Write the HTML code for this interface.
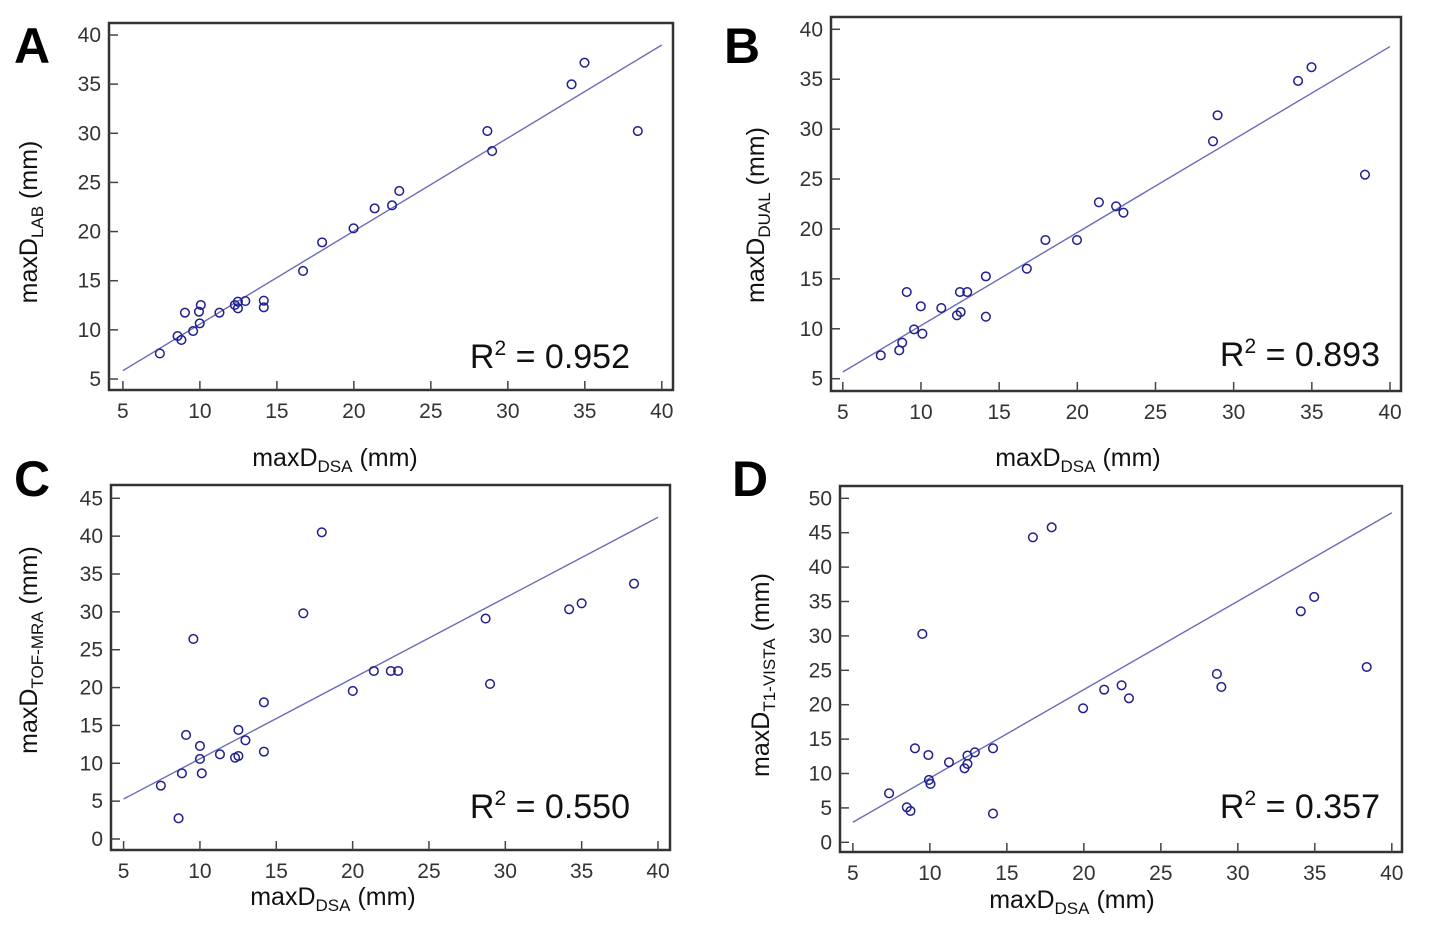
<!DOCTYPE html>
<html><head><meta charset="utf-8"><style>
html,body{margin:0;padding:0;background:#fff;}
svg{display:block;font-family:"Liberation Sans",sans-serif;}
</style></head><body>
<svg id="fig" width="1430" height="943" viewBox="0 0 1430 943" xmlns="http://www.w3.org/2000/svg"></svg>
<script>
// ---- data (x = maxD_DSA, y = other modality) ----
const xA=[7.4,8.55,8.8,9.03,9.56,9.94,10.06,9.99,11.27,12.27,12.47,12.47,12.95,14.15,14.15,16.7,17.94,19.98,21.35,22.48,22.95,28.67,28.98,34.14,34.98,38.44];
const yA=[7.6,9.37,8.97,11.75,9.88,11.85,12.53,10.66,11.75,12.53,12.87,12.19,12.93,12.97,12.29,15.99,18.9,20.33,22.36,22.67,24.13,30.23,28.19,34.98,37.18,30.23];
const fitA=[5.85,38.98];
const xB=[7.43,8.61,8.8,9.09,9.56,10.09,9.99,11.3,12.3,12.54,12.49,12.96,14.15,14.15,16.77,17.96,19.98,21.38,22.48,22.95,28.68,28.97,34.12,34.98,38.4];
const yB=[7.34,7.84,8.61,13.68,9.94,9.51,12.25,12.08,11.35,11.68,13.68,13.68,15.25,11.21,16.02,18.89,18.89,22.67,22.27,21.63,28.78,31.39,34.83,36.2,25.44];
const fitB=[5.67,38.27];
const xC=[7.44,8.6,8.82,9.09,9.57,10.0,10.0,10.12,11.31,12.3,12.52,12.52,12.98,14.19,14.19,16.77,17.98,20.01,21.39,22.5,22.98,28.71,29.0,34.18,35.0,38.43];
const yC=[7.05,2.73,8.67,13.74,26.42,12.29,10.57,8.67,11.18,10.74,10.96,14.4,13.03,18.05,11.54,29.81,40.51,19.55,22.19,22.19,22.19,29.11,20.48,30.34,31.13,33.73];
const fitC=[5.28,42.49];
const xD=[7.35,8.5,8.74,9.03,9.51,9.9,9.94,10.04,11.24,12.25,12.44,12.44,12.92,14.1,14.1,16.69,17.91,19.95,21.32,22.45,22.93,28.64,28.93,34.09,34.96,38.37];
const yD=[7.12,5.09,4.55,13.66,30.28,12.69,9.06,8.48,11.63,10.76,12.6,11.39,13.08,13.66,4.17,44.33,45.78,19.48,22.19,22.82,20.93,24.47,22.58,33.58,35.66,25.48];
const fitD=[2.91,47.9];
const xTicks=[5,10,15,20,25,30,35,40];
const yTicksA=[5,10,15,20,25,30,35,40];
const yTicksB=[5,10,15,20,25,30,35,40];
const yTicksC=[0,5,10,15,20,25,30,35,40,45];
const yTicksD=[0,5,10,15,20,25,30,35,40,45,50];
const r2Labels=["0.952","0.893","0.550","0.357"];

const NS="http://www.w3.org/2000/svg";
const svg=document.getElementById('fig');
function mk(tag,attrs,parent){const e=document.createElementNS(NS,tag);for(const k in attrs)e.setAttribute(k,attrs[k]);(parent||svg).appendChild(e);return e;}

const panels=[
 {id:'a',L:'A',lx:14,ly:63,frame:[109,23,673,390],x0:122.9,x1:661.8,y0v:5,y0:379,y1v:40,y1:35,xs:xA,ys:yA,fit:fitA,yt:yTicksA,sub:'LAB',ytx:28,yty:222,xtx:335,xty:466,r2x:630,r2y:368},
 {id:'b',L:'B',lx:724,ly:63,frame:[831,17,1401,391],x0:842.8,x1:1390,y0v:5,y0:378.7,y1v:40,y1:29.3,xs:xB,ys:yB,fit:fitB,yt:yTicksB,sub:'DUAL',ytx:755,yty:215,xtx:1078,xty:466,r2x:1380,r2y:366},
 {id:'c',L:'C',lx:14,ly:496,frame:[111,485,670,850],x0:123.6,x1:658,y0v:0,y0:839,y1v:45,y1:498.3,xs:xC,ys:yC,fit:fitC,yt:yTicksC,sub:'TOF-MRA',ytx:28,yty:650,xtx:333,xty:905,r2x:630,r2y:818},
 {id:'d',L:'D',lx:732,ly:496,frame:[840,486,1402,852],x0:852.9,x1:1391.8,y0v:0,y0:842.3,y1v:50,y1:498.3,xs:xD,ys:yD,fit:fitD,yt:yTicksD,sub:'T1-VISTA',ytx:760,yty:675,xtx:1072,xty:908,r2x:1380,r2y:818}
];

panels.forEach(p=>{
  const g=mk('g',{});
  
  
  const X=v=>p.x0+(v-5)*(p.x1-p.x0)/35;
  const Y=v=>p.y0+(v-p.y0v)*(p.y1-p.y0)/(p.y1v-p.y0v);
  const [fl,ft,fr,fb]=p.frame;
  const lt=mk('text',{x:p.lx,y:p.ly,'font-size':50,'font-weight':'bold',fill:'#000'},g);
  lt.textContent=p.L;
  
  
  const fr_=mk('rect',{x:fl,y:ft,width:fr-fl,height:fb-ft,fill:'none',stroke:'#333',"stroke-width":2.5},g);
  
  
  xTicks.forEach(t=>{
    mk('line',{x1:X(t),x2:X(t),y1:fb,y2:fb-9,stroke:'#444','stroke-width':1.5},g);
    const tx=mk('text',{x:X(t),y:fb+28,'font-size':21,'text-anchor':'middle',fill:'#333'},g);
    tx.textContent=t;
    
    
  });
  p.yt.forEach(t=>{
    mk('line',{x1:fl,x2:fl+9,y1:Y(t),y2:Y(t),stroke:'#444','stroke-width':1.5},g);
    const tx=mk('text',{x:fl-8,y:Y(t)+7,'font-size':21,'text-anchor':'end',fill:'#333'},g);
    tx.textContent=t;
    
    
  });
  const ln=mk('line',{x1:X(5),y1:Y(p.fit[0]),x2:X(40),y2:Y(p.fit[1]),stroke:'#6b6bbd','stroke-width':1.4},g);
  
  
  p.xs.forEach((v,i)=>{
    const c=mk('circle',{cx:X(v),cy:Y(p.ys[i]),r:4.3,fill:'none',stroke:'#1f1f8f','stroke-width':1.5},g);
    
    
  });
  const r=mk('text',{x:p.r2x,y:p.r2y,'font-size':34,'text-anchor':'end',fill:'#111'},g);
  r.innerHTML='R<tspan dy="-13" font-size="21">2</tspan><tspan dy="13"> = '+r2Labels[panels.indexOf(p)]+'</tspan>';
  
  
  const xt=mk('text',{x:p.xtx,y:p.xty,'font-size':25,'text-anchor':'middle',fill:'#111'},g);
  xt.innerHTML='maxD<tspan dy="6" font-size="17">DSA</tspan><tspan dy="-6"> (mm)</tspan>';
  
  
  const yt=mk('text',{x:0,y:0,'font-size':25,'text-anchor':'middle',fill:'#111',transform:`translate(${p.ytx+9},${p.yty}) rotate(-90)`},g);
  yt.innerHTML='maxD<tspan dy="6" font-size="17">'+p.sub+'</tspan><tspan dy="-6"> (mm)</tspan>';
  
  
});
</script>
</body></html>
